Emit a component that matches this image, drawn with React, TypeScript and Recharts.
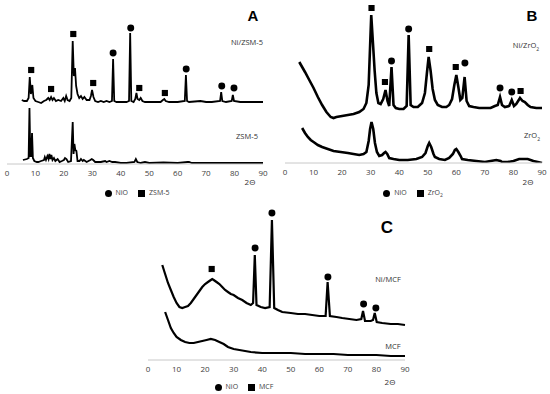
import { ComposedChart, Line, Scatter, XAxis, YAxis, ZAxis, Legend } from 'recharts'

// 2θ / intensity pairs (intensity in arbitrary units)
const niZsm5: [number, number][] = [[5.2,64],[6,63],[7,63],[7.6,66],[8.0,87],[8.4,70],[8.9,79],[9.3,66],[10,63],[11,62],[12,61],[13,63],[13.8,64],[14.5,66],[15,64],[15.5,67],[16,64],[16.5,66],[17.2,63],[18,64],[19,63],[19.8,66],[20.3,63],[20.8,68],[21.3,64],[22,63],[22.6,66],[23.1,123],[23.5,88],[23.9,96],[24.3,78],[24.8,70],[25.4,66],[26,68],[26.6,65],[27.2,67],[28,64],[29,64],[29.5,68],[29.9,74],[30.4,67],[31,63],[32,62],[33,63],[34,62],[35,63],[36,62],[36.9,63],[37.3,105],[37.7,63],[38.5,62],[40,62],[42,62],[42.9,63],[43.3,131],[43.7,63],[44.5,62],[45.1,65],[45.5,71],[45.9,65],[46.5,64],[47,66],[47.6,63],[48.5,62],[50,62],[52,62],[54,62],[54.8,64],[55.3,65],[55.8,63],[57,62],[60,62],[62.5,63],[62.9,89],[63.3,63],[64,62],[66,62.5],[68,63],[70,62],[72,62],[74.9,63],[75.3,72],[75.7,63],[77,62],[79,63],[79.4,69],[79.8,63],[82,62],[85,62],[88,62],[90,62]]
const zsm5: [number, number][] = [[5.6,4],[7,5],[7.6,6],[7.9,56],[8.2,8],[8.5,8],[8.8,31],[9.1,6],[9.6,3],[10.5,2],[11,2],[12,3],[13,4],[13.3,7],[13.7,4],[14.2,8],[14.6,5],[14.9,10],[15.3,5],[15.6,9],[16,4],[16.5,6],[17,3],[17.8,5],[18.5,2],[19.3,3],[20,4],[20.4,6],[20.9,5],[21.5,2],[22.5,3],[23.1,42],[23.4,10],[23.7,20],[24.0,14],[24.4,13],[24.8,3],[25.5,3],[26,5],[26.6,3],[27,4],[28,2],[29.3,4],[29.8,5],[30.3,4],[31,2],[32,2],[33,2],[34.5,3],[35,2],[36,3],[37,2],[38,2],[40,1],[42,1],[44.8,2],[45.3,5],[45.8,2],[47,1],[48.5,2],[50,1],[55,1.5],[60,1],[63.5,2],[64,2],[65,1],[70,1],[75,1],[80,1],[85,1],[90,1]]
const nioA: [number, number][] = [[37.3,111],[43.5,136],[63,95],[75.5,78],[79.8,76]]
const zsmMarks: [number, number][] = [[8.5,94],[15.5,75],[23.3,130],[30.3,81],[46.5,76],[55.5,71]]

const niZrO2: [number, number][] = [[5,101],[6,96],[7,91],[8.5,83],[10,75],[11.5,66],[13,58],[14.5,51],[16,46],[17,45],[18,46],[20,47],[22,48],[24,49],[26,51],[27.5,54],[28.5,60],[29.3,78],[30.2,148],[30.8,120],[31.4,92],[32,70],[32.7,60],[33.5,59],[34.4,64],[35.2,73],[35.9,62],[36.5,57],[37.3,96],[38,58],[38.8,55],[40,54],[41.5,54],[42.6,57],[43.3,128],[44,58],[45,56],[46.5,56],[48,60],[49,70],[49.7,90],[50.3,106],[51,92],[51.7,74],[52.5,63],[53.5,58],[55,56],[56.5,56],[57.5,58],[58.5,64],[59.3,78],[60,88],[60.7,76],[61.4,63],[62.1,65],[62.9,86],[63.6,62],[64.5,57],[66,56],[68,55],[70,55],[72,55],[73.5,57],[74.5,58],[75.3,66],[76,58],[77,56],[78.5,57],[79.4,63],[80.2,57],[81,59],[82.3,65],[83.2,62],[84,61],[85,58],[86,56],[88,55],[90,55]]
const zrO2: [number, number][] = [[6,35],[7,30],[8,26],[9,23],[10,21],[11.5,18],[13,16],[15,14],[17,12],[19.5,11],[22,10],[24,9],[26,8],[27.5,9],[28.5,11],[29.3,22],[29.8,34],[30.3,41],[30.9,34],[31.5,20],[32.2,11],[33,7],[34,8],[34.7,10],[35.2,11],[35.8,9],[36.5,5],[38,4],[40,3],[43,3],[46,4],[48,6],[49.2,10],[50,17],[50.5,20],[51.2,16],[52,9],[52.5,6],[54,4],[56,3],[57.5,5],[58.8,9],[59.5,13],[60,14],[60.7,11],[61.5,7],[62,4],[64,3],[67,2],[70,1],[72,2],[74,3],[75.5,2],[76,1],[78,1],[80,2],[82,4],[83.5,4],[85,4],[87,2],[90,0]]
const nioB: [number, number][] = [[37.3,102],[43.3,134],[63,100],[75.3,75],[79.4,71]]
const zrMarks: [number, number][] = [[30.3,155],[35,81],[50.5,114],[59.8,96],[82.5,72]]

const niMcf: [number, number][] = [[5,95],[6,86],[7,77],[8,70],[9,63],[10,57],[11,53],[12,52],[13,53],[14,54],[15,57],[16,61],[17,65],[18,69],[19,73],[20,76],[21,78],[22,80],[22.5,81],[23,80],[24,78],[25,76],[26,73],[27,70],[28,68],[29,66],[30,65],[31.5,62],[33,60],[34.5,57],[36,55],[36.8,57],[37.4,105],[38,55],[39.5,53],[41,52],[42.6,53],[43.4,140],[44.2,52],[45.5,50],[47,48],[50,47],[52.5,46],[55,46],[57.5,45],[60,44],[62.2,44],[62.9,78],[63.7,44],[66,43],[68,42],[70.5,41],[73,40],[74.7,41],[75.3,49],[76,39],[78,39],[78.8,40],[79.4,47],[80.1,38],[82,37],[85,36],[87.5,36],[90,35]]
const mcf: [number, number][] = [[6,48],[7,40],[8,32],[9,27],[10,23],[11.5,20],[13,18],[14.5,17],[16,17],[17.5,18],[19,19],[20.5,20],[22,21],[23.5,20],[25,18],[26.5,16],[28,13],[30,11],[32,10],[34,9],[36,8],[40,7],[45,7],[50,7],[55,6],[60,6],[65,6],[70,5],[75,5],[80,5],[85,4],[90,4]]
const nioC: [number, number][] = [[37.5,112],[43.4,147],[63,83],[75.5,56],[79.8,52]]
const mcfMarks: [number, number][] = [[22.3,91]]

const xTicks = [0, 10, 20, 30, 40, 50, 60, 70, 80, 90]

const pts = (a: [number, number][]) => a.map(([t, v]) => ({ t, v }))
const font = "'Open Sans', 'Liberation Sans', sans-serif"

interface PanelProps {
  w: number; h: number; top: number; max: number
  left: number; right: number; axisH: number
  upper: [number, number][]; lower: [number, number][]
  nio: [number, number][]; other: [number, number][]; otherName: string
  stroke: number; legendLeft: number
}

function Panel(p: PanelProps) {
  return (
    <ComposedChart width={p.w} height={p.h} margin={{ top: p.top, right: p.right, left: p.left, bottom: 0 }}>
      <XAxis type="number" dataKey="t" domain={[0, 90]} ticks={xTicks} height={p.axisH}
        tickLine={false} tickSize={4} axisLine={{ stroke: '#c8c8c8' }}
        tick={{ fill: '#404040', fontSize: 8, fontFamily: font }} />
      <YAxis type="number" dataKey="v" domain={[0, p.max]} hide allowDataOverflow />
      <ZAxis range={[38, 38]} />
      <Line data={pts(p.upper)} dataKey="v" stroke="#000" strokeWidth={p.stroke} dot={false} legendType="none" isAnimationActive={false} />
      <Line data={pts(p.lower)} dataKey="v" stroke="#000" strokeWidth={p.stroke} dot={false} legendType="none" isAnimationActive={false} />
      <Scatter name="NiO" data={pts(p.nio)} dataKey="v" fill="#000" shape="circle" legendType="circle" isAnimationActive={false} />
      <Scatter name={p.otherName} data={pts(p.other)} dataKey="v" fill="#000" shape="square" legendType="square" isAnimationActive={false} />
      <Legend verticalAlign="bottom" height={14} iconSize={7}
        itemSorter={(item: { value?: string }) => (item.value === 'NiO' ? 0 : 1)}
        wrapperStyle={{ fontSize: 7, lineHeight: '14px', fontFamily: font, left: p.legendLeft, width: 90 }}
        formatter={(v: string) => <span style={{ color: '#404040' }}>{v === 'ZrO2' ? <>ZrO<sub style={{ fontSize: 5 }}>2</sub></> : v}</span>} />
    </ComposedChart>
  )
}

const txt = (x: number, y: number, size: number, bold = false): React.CSSProperties => ({
  position: 'absolute', left: x, top: y, transform: 'translate(-50%, -50%)', fontSize: size,
  fontWeight: bold ? 700 : 400, fontFamily: bold ? "'Liberation Sans', Arial, sans-serif" : font,
  color: bold ? '#000' : '#333', whiteSpace: 'nowrap', lineHeight: 1,
})

export default function App() {
  return (
    <div style={{ position: 'absolute', left: 0, top: 0, width: 550, height: 394, background: '#fff', overflow: 'hidden' }}>
      <div style={{ position: 'absolute', left: 0, top: 0 }}>
        <Panel w={275} h={200} top={14} max={150} left={7} right={12} axisH={22}
          upper={niZsm5} lower={zsm5} nio={nioA} other={zsmMarks} otherName="ZSM-5" stroke={1.8} legendLeft={97} />
      </div>
      <div style={{ position: 'absolute', left: 275, top: 0 }}>
        <Panel w={275} h={200} top={3} max={160} left={10} right={8} axisH={23}
          upper={niZrO2} lower={zrO2} nio={nioB} other={zrMarks} otherName="ZrO2" stroke={2.6} legendLeft={98} />
      </div>
      <div style={{ position: 'absolute', left: 140, top: 190 }}>
        <Panel w={280} h={204} top={10} max={160} left={8} right={15} axisH={20}
          upper={niMcf} lower={mcf} nio={nioC} other={mcfMarks} otherName="MCF" stroke={2.2} legendLeft={64} />
      </div>
      <div style={txt(253, 15, 15, true)}>A</div>
      <div style={txt(247, 43, 7.5)}>Ni/ZSM-5</div>
      <div style={txt(247, 137, 7.5)}>ZSM-5</div>
      <div style={txt(250, 182, 8)}>2Θ</div>
      <div style={txt(532, 15, 15, true)}>B</div>
      <div style={txt(526, 47, 7.5)}>Ni/ZrO<sub style={{ fontSize: 5 }}>2</sub></div>
      <div style={txt(532, 137, 7.5)}>ZrO<sub style={{ fontSize: 5 }}>2</sub></div>
      <div style={txt(528, 182, 8)}>2Θ</div>
      <div style={txt(387, 227, 17, true)}>C</div>
      <div style={txt(388, 280, 7.5)}>Ni/MCF</div>
      <div style={txt(393, 347, 7.5)}>MCF</div>
      <div style={txt(390, 382, 8)}>2Θ</div>
    </div>
  )
}
